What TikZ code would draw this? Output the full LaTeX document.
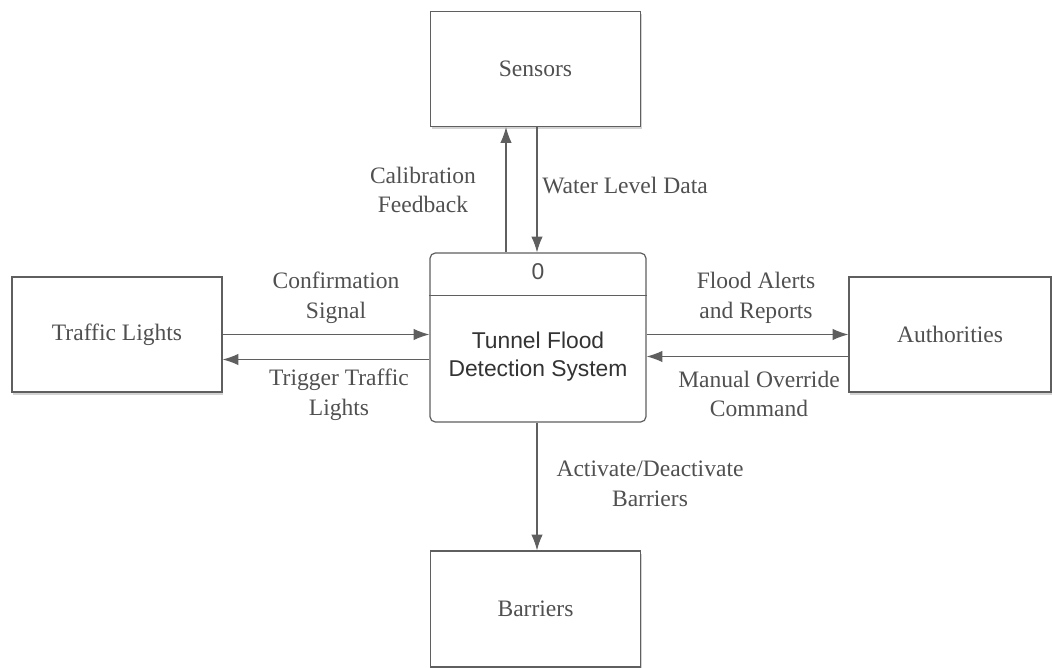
\documentclass[tikz,border=0pt]{standalone}
\usepackage{fontspec}
\setmainfont{Liberation Serif}
\setsansfont{Liberation Sans}
\usepackage{tikz}
\usetikzlibrary{calc, positioning, arrows.meta, shadows}
\definecolor{txtgray}{RGB}{80,80,80}
\definecolor{linegray}{RGB}{95,95,95}
\tikzstyle{entity}=[draw=linegray, line width=0.7pt, fill=white, shape=rectangle, minimum width=4.2cm, minimum height=2.3cm, font=\fontsize{13.4}{17}\selectfont, text=txtgray, drop shadow={shadow xshift=0.8pt, shadow yshift=-1.5pt, opacity=0.35}]
\tikzstyle{proc}=[draw=linegray, line width=0.7pt, fill=white, shape=rectangle, rounded corners=3pt, minimum width=4.32cm, minimum height=3.38cm]
\tikzstyle{flow}=[font=\fontsize{13.4}{17}\selectfont, text=txtgray, align=center, inner sep=0pt]
\tikzstyle{conn}=[draw=linegray, line width=0.6pt]
\tikzset{>={Latex[length=9pt,width=6.5pt]}}

\begin{document}
\begin{tikzpicture}[x=0.02cm, y=-0.02cm]
\useasboundingbox (0,0) rectangle (1052,668);
% the external entities
\node[entity] (S) at (535.5,69) {Sensors};
\node[entity] (T) at (117,334.5) {Traffic Lights};
\node[entity, minimum width=4.04cm] (A) at (950,334.5) {Authorities};
\node[entity, minimum height=2.32cm] (B) at (535.5,609) {Barriers};
% the process
\node[proc] (P) at (538,337.5) {};
\draw[linegray, line width=0.6pt] ($(P.north west)+(0,43)$) -- ($(P.north east)+(0,43)$);
\node[text=txtgray, font=\sffamily\fontsize{13}{16}\selectfont] (P0) at (538,272) {0};
\node[text=black!80, font=\sffamily\fontsize{13}{16}\selectfont, align=center] (PT) at (538,357) {Tunnel Flood\\Detection System};
% the data flows
\draw[conn, ->] ([xshift=-0.64cm]P.north) -- ([xshift=-0.64cm]P.north |- S.south);
\draw[conn, ->] ([xshift=0.03cm]S.south) -- ([xshift=0.03cm]S.south |- P.north);
\draw[conn, ->] (T.east) -- (T.east -| P.west);
\draw[conn, ->] ([yshift=-0.44cm]P.west) -- ([yshift=-0.44cm]P.west -| T.east);
\draw[conn, ->] (A.west -| P.east) -- (A.west);
\draw[conn, ->] ([yshift=-0.44cm]A.west) -- ([yshift=-0.44cm]A.west -| P.east);
\draw[conn, ->] ([xshift=-0.02cm]P.south) -- ([xshift=-0.02cm]P.south |- B.north);
% the flow labels
\node[flow] (l1) at (423,190) {Calibration\\Feedback};
\node[flow, anchor=west] (l2) at (542,186) {Water Level Data};
\node[flow] (l3) at (336,298) {Confirmation\\Signal};
\node[flow] (l4) at (339,395) {Trigger Traffic\\Lights};
\node[flow] (l5) at (756,298) {Flood Alerts\\and Reports};
\node[flow] (l6) at (759,394) {Manual Override\\Command};
\node[flow] (l7) at (650,484) {Activate/Deactivate\\Barriers};
\end{tikzpicture}
\end{document}
